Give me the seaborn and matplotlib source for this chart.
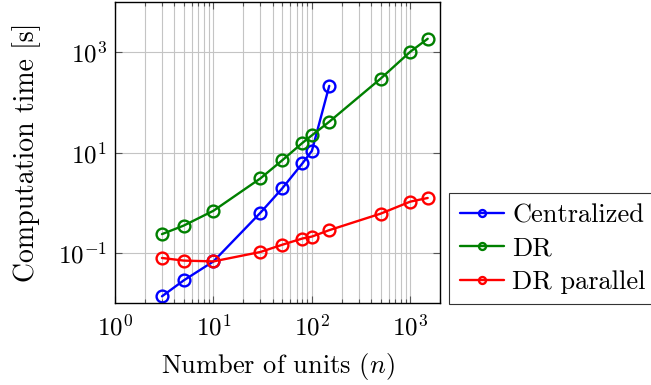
import matplotlib
matplotlib.use("Agg")
import matplotlib.pyplot as plt
import matplotlib.ticker as mticker
import seaborn as sns
import pandas as pd

units_central = [3, 5, 10, 30, 50, 80, 100, 150]
time_central = [0.0136, 0.0283, 0.0675, 0.63, 1.93, 6.05, 10.8, 213]
units_dr = [3, 5, 10, 30, 50, 80, 100, 150, 500, 1000, 1500]
time_dr = [0.236, 0.35, 0.69, 3.05, 7.0, 15.5, 22, 41, 298, 1023, 1850]
units_par = [3, 5, 10, 30, 50, 80, 100, 150, 500, 1000, 1500]
time_par = [0.079, 0.070, 0.0675, 0.104, 0.145, 0.193, 0.211, 0.283, 0.605, 1.05, 1.24]
series_names = ["Centralized", "DR", "DR parallel"]
series_colors = ["#0000ff", "#008000", "#ff0000"]

sns.set_theme(style="white")
plt.rcParams["font.family"] = ["cmr10", "DejaVu Serif"]
plt.rcParams["mathtext.fontset"] = "cm"
plt.rcParams["axes.formatter.use_mathtext"] = True
plt.rcParams["text.color"] = "black"
plt.rcParams["axes.labelcolor"] = "black"

fig = plt.figure(figsize=(6.51, 3.85), dpi=100)
ax = fig.add_axes([115 / 651, 1 - 303 / 385, 325 / 651, 301 / 385])

data = [(units_central, time_central), (units_dr, time_dr), (units_par, time_par)]
for (xs, ys), name, col in zip(data, series_names, series_colors):
    df = pd.DataFrame({"n": xs, "t": ys})
    sns.lineplot(data=df, x="n", y="t", ax=ax, color=col, lw=1.7, marker="o",
                 markersize=8.5, markerfacecolor="none", markeredgecolor=col,
                 markeredgewidth=1.7, label=name, legend=False)

ax.set_xscale("log")
ax.set_yscale("log")
ax.set_xlim(1, 2000)
ax.set_ylim(1e-2, 1e4)

ax.xaxis.set_major_locator(mticker.FixedLocator([1, 10, 100, 1000]))
ax.xaxis.set_minor_locator(mticker.LogLocator(base=10, subs=range(2, 10), numticks=20))
ax.xaxis.set_minor_formatter(mticker.NullFormatter())
ax.yaxis.set_major_locator(mticker.FixedLocator([1e-1, 1e1, 1e3]))
ax.yaxis.set_minor_locator(mticker.NullLocator())

ax.grid(True, which="major", color="#c4c4c4", lw=0.8)
ax.grid(True, which="minor", axis="x", color="#c4c4c4", lw=0.8)
ax.tick_params(which="both", direction="in", top=True, right=True, bottom=True, left=True,
               colors="#555555", labelcolor="black", labelsize=18)
ax.tick_params(which="major", length=5, width=0.8)
ax.tick_params(which="minor", length=3, width=0.8)
ax.tick_params(axis="x", pad=8)
ax.tick_params(axis="y", pad=6)
for s in ax.spines.values():
    s.set_color("black")
    s.set_linewidth(1.0)

ax.set_xlabel("Number of units ($n$)", fontsize=19, labelpad=8, color="black")
ax.set_ylabel("Computation time [s]", fontsize=20, labelpad=12, color="black")

handles, labels = ax.get_legend_handles_labels()
leg = fig.legend(handles, labels, loc="upper left", bbox_to_anchor=(449 / 651, 1 - 193 / 385),
                 fontsize=19, frameon=True, fancybox=False, framealpha=1,
                 edgecolor="#333333", handlelength=1.7, handletextpad=0.3,
                 borderpad=0.4, labelspacing=0.36, borderaxespad=0)
leg.get_frame().set_linewidth(0.8)
for t in leg.get_texts():
    t.set_color("black")
for h in leg.legend_handles:
    h.set_markersize(5)

fig.savefig("out.png", dpi=100)
